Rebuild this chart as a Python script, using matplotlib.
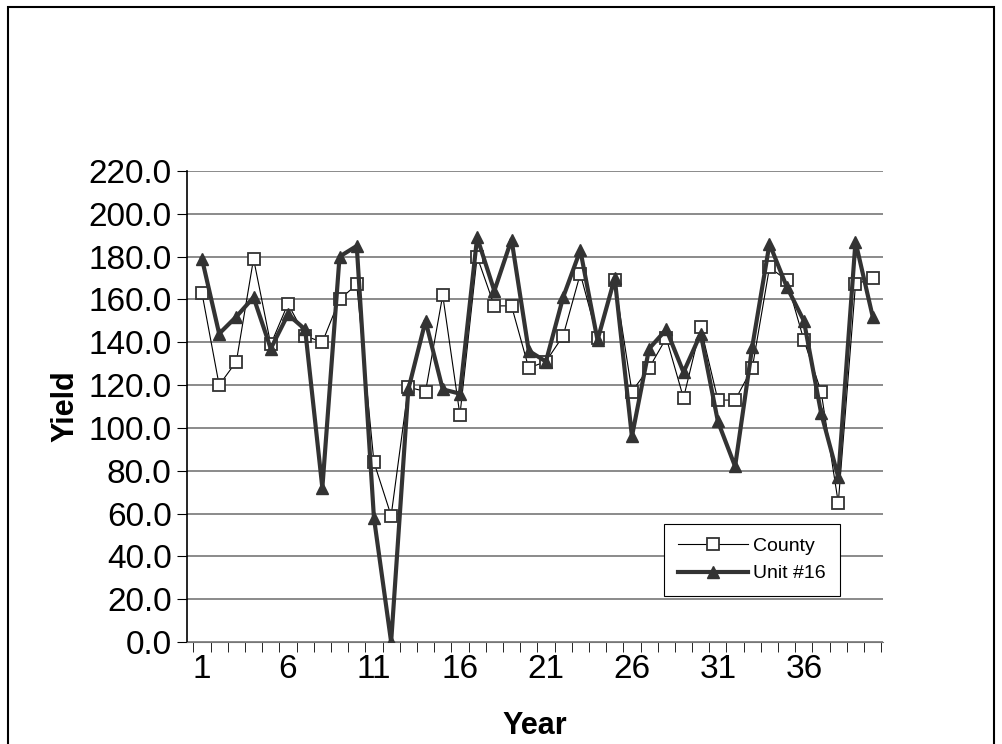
import numpy as np
import matplotlib.pyplot as plt
from matplotlib.patches import Rectangle

plt.rcParams['font.family'] = ['Liberation Sans', 'DejaVu Sans']

years = np.arange(1, 41)
county = [163, 120, 131, 179, 139, 158, 143, 140, 160, 167,
          84, 59, 119, 117, 162, 106, 180, 157, 157, 128,
          131, 143, 172, 142, 169, 117, 128, 142, 114, 147,
          113, 113, 128, 175, 169, 141, 117, 65, 167, 170]
unit16 = [179, 144, 152, 161, 137, 153, 146, 72, 180, 185,
          58, 0, 118, 150, 118, 116, 189, 164, 188, 136,
          131, 161, 183, 141, 170, 96, 137, 146, 126, 144,
          103, 82, 138, 186, 166, 150, 107, 77, 187, 152]

fig = plt.figure(figsize=(10.03, 7.44), dpi=100)
fig.patches.append(Rectangle((0.008, -0.01), 0.983, 1.0, transform=fig.transFigure,
                             fill=False, edgecolor='black', linewidth=1.5))
ax = fig.add_axes([187/1003, 1-642/744, 696/1003, 471/744])

ax.plot(years, county, color='black', lw=0.8, marker='s', ms=8,
        mfc='white', mec='#333333', mew=1.3, label='County', zorder=3)
ax.plot(years, unit16, color='#333333', lw=3, marker='^', ms=9,
        mfc='#333333', mec='#333333', label='Unit #16', zorder=4)

ax.set_xlim(0.13, 40.6)
ax.set_ylim(0, 220)
ax.set_yticks(np.arange(0, 221, 20))
ax.set_yticklabels([f"{v:.1f}" for v in range(0, 221, 20)], fontsize=24)
ax.set_xticks(np.arange(1, 41, 5))
ax.set_xticklabels([str(v) for v in range(1, 41, 5)], fontsize=24)
ax.set_xticks(np.arange(0.5, 41, 1), minor=True)
ax.tick_params(axis='x', which='major', length=0, pad=9)
ax.tick_params(axis='x', which='minor', length=7, direction='out')
ax.tick_params(axis='y', length=7, direction='out', pad=4)
ax.grid(axis='y', color='#777777', lw=1.2)
ax.set_axisbelow(True)
for s in ['top', 'right']:
    ax.spines[s].set_visible(False)
ax.spines['left'].set_linewidth(1.2)
ax.spines['bottom'].set_color('#777777')

ax.set_ylabel('Yield', fontsize=22, fontweight='bold', labelpad=6)
ax.set_xlabel('Year', fontsize=22, fontweight='bold', labelpad=18)

leg = ax.legend(loc='lower left', bbox_to_anchor=((664-187)/696, (642-596)/471),
                fontsize=14, frameon=True, fancybox=False, edgecolor='black',
                framealpha=1, handlelength=3.6, borderpad=0.7, handletextpad=0.3,
                borderaxespad=0)
leg.get_frame().set_linewidth(0.8)

fig.savefig('out.png', dpi=100)
